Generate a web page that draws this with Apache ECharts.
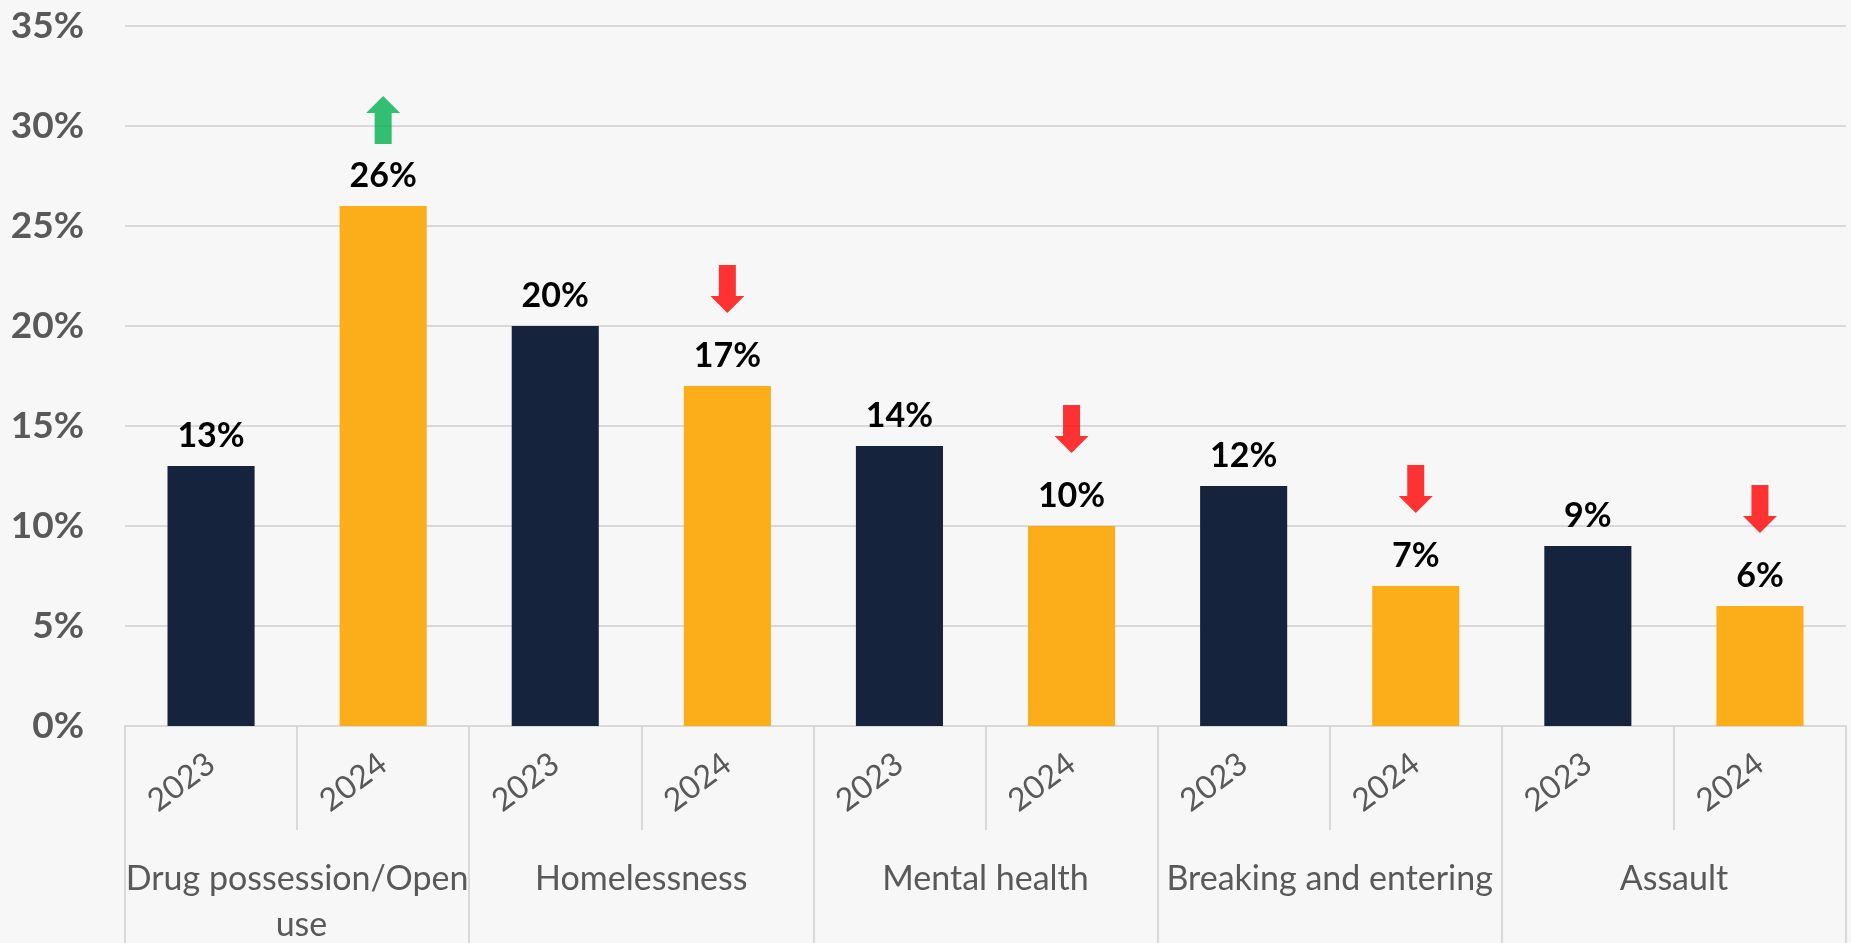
<!DOCTYPE html>
<html>
<head>
<meta charset="utf-8">
<script src="https://cdn.jsdelivr.net/npm/echarts@6/dist/echarts.min.js"></script>
<style>
html, body { margin: 0; padding: 0; background: #f7f7f7; }
#chart { width: 1851px; height: 943px; }
</style>
</head>
<body>
<div id="chart"></div>
<script>
// data
var categories = ['Drug possession/Open use', 'Homelessness', 'Mental health', 'Breaking and entering', 'Assault'];
var years = ['2023', '2024'];
var values2023 = [13, 20, 14, 12, 9];
var values2024 = [26, 17, 10, 7, 6];
var yTicks = [0, 5, 10, 15, 20, 25, 30, 35];

var colors = ['#15233d', '#fbae1a'];
var upColor = '#00b050', downColor = '#ff0000';
var font = 'Lato, "Open Sans", sans-serif';

// one slot per (category, year)
var slots = [], barData = [], arrowData = [];
categories.forEach(function (c, i) {
  slots.push(years[0], years[1]);
  barData.push({ value: values2023[i], itemStyle: { color: colors[0] } });
  barData.push({ value: values2024[i], itemStyle: { color: colors[1] } });
  arrowData.push('-');
  var up = values2024[i] > values2023[i];
  arrowData.push({
    value: values2024[i],
    symbolRotate: up ? 0 : 180,
    symbolOffset: [0, up ? -86 : -97],
    itemStyle: { color: up ? upColor : downColor }
  });
});

var arrowPath = 'path://M17,0 L34,17 L25.5,17 L25.5,48 L8.5,48 L8.5,17 L0,17 Z';

var chart = echarts.init(document.getElementById('chart'));
var option = {
  backgroundColor: '#f7f7f7',
  animation: false,
  grid: { left: 125, right: 5, top: 26, bottom: 217, containLabel: false, outerBoundsMode: 'none' },
  xAxis: [
    {
      type: 'category',
      data: slots,
      position: 'bottom',
      axisLine: { lineStyle: { color: '#d9d9d9', width: 2 } },
      axisTick: { show: true, interval: 0, length: 104, lineStyle: { color: '#d9d9d9', width: 2 } },
      axisLabel: {
        interval: 0, rotate: 37, margin: 34,
        color: '#595959', fontFamily: font, fontSize: 32
      }
    },
    {
      type: 'category',
      data: categories,
      position: 'bottom',
      offset: 0,
      axisLine: { show: false },
      axisTick: { show: true, interval: 0, length: 217, lineStyle: { color: '#d9d9d9', width: 2 } },
      axisLabel: {
        interval: 0, margin: 130,
        color: '#595959', fontFamily: font, fontSize: 34,
        width: 350, overflow: 'break', lineHeight: 46
      }
    }
  ],
  yAxis: {
    type: 'value',
    min: yTicks[0], max: yTicks[yTicks.length - 1], interval: 5,
    axisLine: { show: false },
    axisTick: { show: false },
    splitLine: { lineStyle: { color: '#d9d9d9', width: 2 } },
    axisLabel: {
      margin: 41,
      formatter: '{value}%',
      color: '#595959', fontFamily: font, fontSize: 37, fontWeight: 'bold'
    }
  },
  series: [
    {
      type: 'bar',
      xAxisIndex: 0,
      barWidth: '50.6%',
      data: barData,
      label: {
        show: true, position: 'top', distance: 13,
        formatter: '{c}%',
        color: '#000', fontFamily: font, fontSize: 34, fontWeight: 'bold'
      }
    },
    {
      type: 'scatter',
      xAxisIndex: 0,
      symbol: arrowPath,
      symbolSize: [34, 48],
      z: 5,
      data: arrowData
    }
  ]
};
chart.setOption(option);
</script>
</body>
</html>
